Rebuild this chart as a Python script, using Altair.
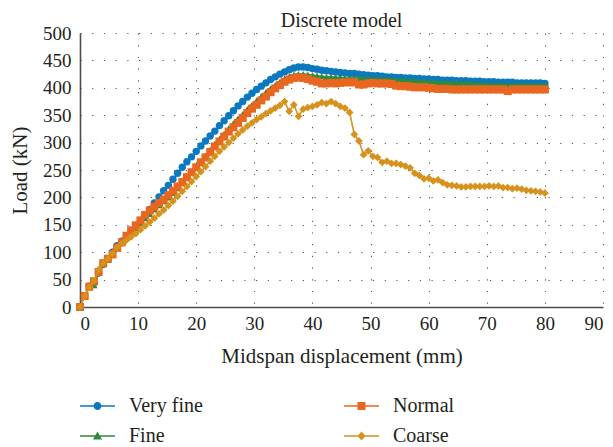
import altair as alt
import pandas as pd

# Midspan displacement steps (mm)
DISP = [round(0.8 * i, 1) for i in range(101)]

# Load (kN) for each mesh density
VERY_FINE = [0, 20, 38, 44, 62, 78, 88, 100, 112, 120,
             128, 138, 148, 158, 168, 178, 190, 201, 212, 222,
             233, 244, 255, 265, 274, 284, 294, 303, 312, 321,
             331, 340, 349, 358, 367, 375, 383, 390, 397, 403,
             409, 415, 420, 425, 429, 433, 436, 438, 438, 437,
             435, 434, 432, 431, 430, 429, 428, 427, 426, 426,
             425, 424, 423, 422, 422, 421, 420, 420, 419, 419,
             418, 418, 417, 417, 416, 416, 415, 415, 414, 414,
             414, 413, 413, 413, 412, 412, 412, 411, 411, 411,
             410, 410, 410, 410, 409, 409, 409, 409, 409, 409,
             408]

FINE = [0, 20, 36, 40, 62, 78, 86, 98, 110, 118,
        126, 135, 144, 153, 162, 170, 178, 186, 193, 200,
        208, 217, 226, 236, 246, 256, 266, 276, 287, 298,
        307, 316, 326, 335, 344, 352, 361, 369, 377, 385,
        392, 399, 405, 411, 417, 421, 424, 425, 425, 424,
        423, 422, 421, 420, 420, 419, 419, 418, 418, 418,
        418, 417, 417, 417, 416, 416, 416, 415, 415, 414,
        414, 413, 413, 412, 412, 411, 411, 410, 410, 409,
        409, 409, 408, 408, 408, 407, 407, 407, 406, 406,
        406, 406, 405, 406, 405, 405, 405, 405, 405, 405,
        405]

NORMAL = [0, 20, 37, 47, 64, 80, 88, 96, 108, 118,
          130, 140, 149, 158, 168, 176, 183, 190, 196, 204,
          212, 220, 228, 237, 246, 255, 264, 273, 283, 293,
          302, 311, 320, 328, 336, 345, 354, 362, 369, 377,
          384, 392, 399, 405, 411, 415, 418, 419, 418, 416,
          413, 411, 408, 408, 409, 408, 409, 410, 410, 410,
          406, 406, 408, 409, 408, 408, 408, 407, 404, 403,
          403, 402, 401, 401, 401, 400, 399, 398, 398, 398,
          397, 397, 397, 397, 397, 397, 397, 397, 397, 397,
          397, 397, 394, 397, 397, 397, 397, 397, 397, 397,
          397]

COARSE = [0, 20, 36, 48, 68, 80, 88, 98, 109, 116,
          122, 128, 134, 141, 148, 155, 162, 170, 177, 185,
          193, 202, 211, 220, 229, 238, 247, 256, 266, 275,
          284, 292, 300, 308, 316, 323, 330, 336, 342, 347,
          353, 358, 363, 368, 375, 357, 369, 348, 361, 364,
          366, 369, 373, 371, 375, 371, 366, 363, 355, 315,
          303, 278, 285, 275, 273, 264, 266, 262, 262, 260,
          257, 254, 244, 240, 234, 235, 230, 232, 227, 223,
          222, 221, 219, 219, 220, 220, 220, 220, 221, 220,
          221, 218, 218, 216, 217, 215, 213, 212, 211, 210,
          208]

# legend fills column by column: Very fine / Fine, then Normal / Coarse
MESHES = ["Very fine", "Fine", "Normal", "Coarse"]
COLORS = ["#0b78bf", "#2e8a3d", "#e8661f", "#d6921c"]
MARKERS = {"Very fine": "circle", "Fine": "triangle-up",
           "Normal": "square", "Coarse": "diamond"}
MARKER_SIZES = {"Very fine": 55, "Fine": 50, "Normal": 64, "Coarse": 60}

# legend glyphs: a short line with the series marker on it
LINE = "M-1.75,-0.075H1.75V0.075H-1.75Z"
GLYPHS = [
    LINE + " M-0.4,0A0.4,0.4 0 1,1 0.4,0A0.4,0.4 0 1,1 -0.4,0Z",
    LINE + " M0,-0.45L0.45,0.35L-0.45,0.35Z",
    LINE + " M-0.4,-0.4H0.4V0.4H-0.4Z",
    LINE + " M0,-0.45L0.4,0L0,0.45L-0.4,0Z",
]

series = {"Very fine": VERY_FINE, "Fine": FINE, "Normal": NORMAL, "Coarse": COARSE}
rows = []
for name, loads in series.items():
    for d, v in zip(DISP, loads):
        rows.append({"Mesh": name, "disp": d, "load": v})
df = pd.DataFrame(rows)

FONT = "Liberation Serif"
TXT = "#231f20"

legend = alt.Legend(
    title=None, orient="none", legendX=7.5, legendY=363, columns=2,
    symbolSize=400, symbolStrokeWidth=0, labelFont=FONT, labelFontSize=20,
    labelColor=TXT, labelOffset=21.5, columnPadding=140, rowPadding=10,
    padding=0,
)

x_enc = alt.X("disp:Q", scale=alt.Scale(domain=[0, 90], nice=False),
              axis=alt.Axis(values=list(range(0, 91, 10)),
                            title="Midspan displacement (mm)"))
y_enc = alt.Y("load:Q", scale=alt.Scale(domain=[0, 500], nice=False),
              axis=alt.Axis(values=list(range(0, 501, 50)), title="Load (kN)"))
color_enc = alt.Color("Mesh:N", scale=alt.Scale(domain=MESHES, range=COLORS),
                      legend=legend)

base = alt.Chart(df)
layers = []
for name in ["Very fine", "Fine", "Normal", "Coarse"]:
    sub = base.transform_filter(alt.datum.Mesh == name)
    layers.append(sub.mark_line(strokeWidth=1.6).encode(
        x=x_enc, y=y_enc, color=color_enc))
    layers.append(sub.mark_point(filled=True, opacity=1, strokeWidth=0,
                                 shape=MARKERS[name], size=MARKER_SIZES[name]).encode(
        x=x_enc, y=y_enc, color=color_enc))

# empty layer that only carries the combined line+marker legend glyphs
key = base.transform_filter("false").mark_point(filled=True, opacity=1).encode(
    x=x_enc, y=y_enc, color=color_enc,
    shape=alt.Shape("Mesh:N", scale=alt.Scale(domain=MESHES, range=GLYPHS),
                    legend=legend),
)
layers.append(key)

chart = alt.layer(*layers).properties(
    width=523, height=274,
    title=alt.TitleParams("Discrete model", font=FONT, fontSize=20,
                          fontWeight="normal", color=TXT, offset=6, dy=13),
    autosize=alt.AutoSizeParams(type="none"),
    padding={"left": 80, "top": 33, "right": 10, "bottom": 140},
).configure_view(stroke=None).configure_axis(
    labelFont=FONT, labelFontSize=19, labelColor=TXT,
    titleFont=FONT, titleFontSize=21, titleFontWeight="normal", titleColor=TXT,
    ticks=False, domainColor="#4d4d4d", domainWidth=1.6,
    grid=True, gridColor="#555555", gridWidth=1.1, gridDash=[1.2, 10.5],
).configure_axisX(labelPadding=7, titlePadding=12).configure_axisY(
    labelPadding=9, titlePadding=12)

chart.save("out.html", embed_options={"renderer": "svg", "actions": False})
